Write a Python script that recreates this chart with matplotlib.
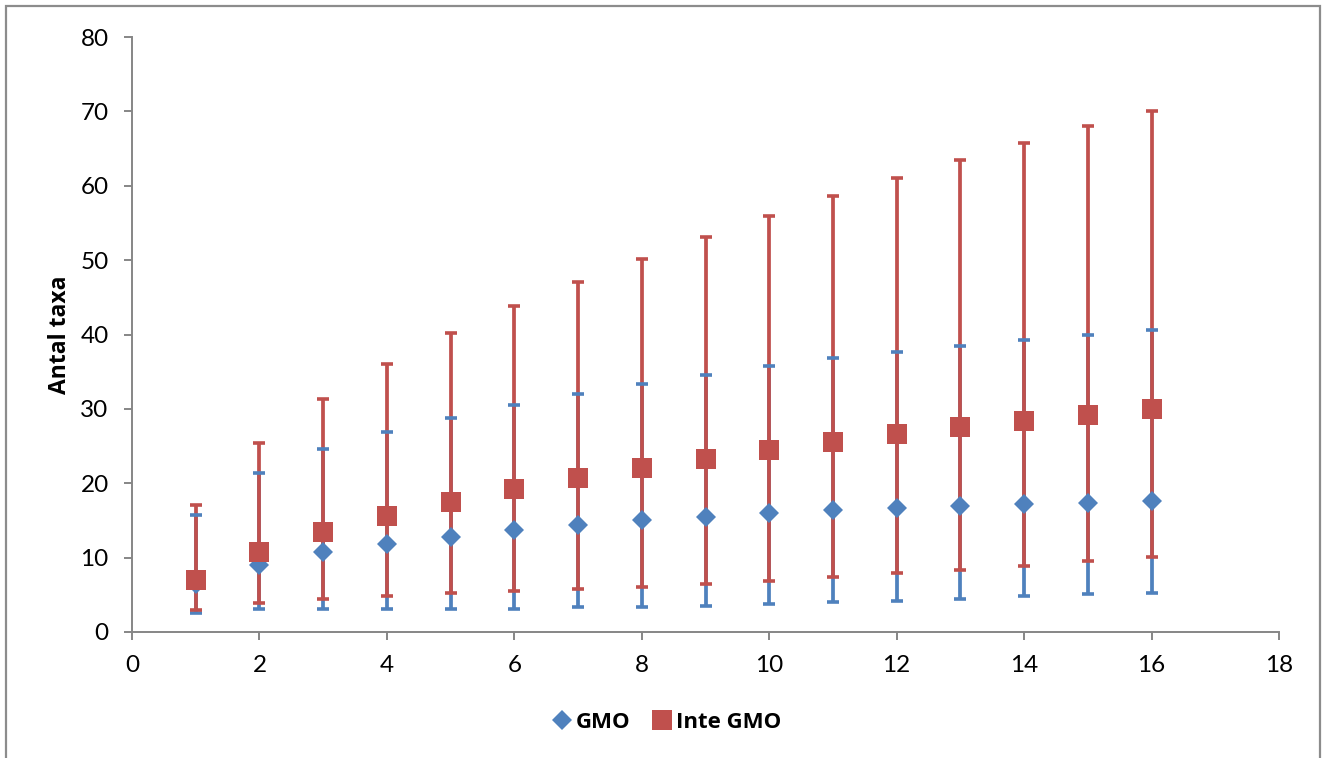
import matplotlib
matplotlib.use("Agg")
import matplotlib.pyplot as plt
from matplotlib.lines import Line2D
from matplotlib.patches import Rectangle
import numpy as np

plt.rcParams["font.family"] = ["Lato", "DejaVu Sans"]
BOLD_FONT = ["Open Sans", "DejaVu Sans"]

# rarefaction: number of samples vs. number of taxa
samples = list(range(1, 17))

gmo_mean = [6.5, 9.0, 10.7, 11.8, 12.8, 13.7, 14.4, 15.0, 15.5, 16.0, 16.4, 16.7, 17.0, 17.2, 17.4, 17.6]
gmo_low = [2.6, 3.1, 3.1, 3.1, 3.1, 3.1, 3.3, 3.4, 3.5, 3.8, 4.0, 4.2, 4.5, 4.8, 5.1, 5.3]
gmo_high = [15.7, 21.4, 24.6, 26.9, 28.8, 30.5, 32.0, 33.4, 34.6, 35.7, 36.8, 37.7, 38.5, 39.3, 40.0, 40.6]

inte_mean = [7.0, 10.7, 13.4, 15.6, 17.5, 19.2, 20.7, 22.0, 23.3, 24.5, 25.6, 26.6, 27.6, 28.4, 29.2, 30.0]
inte_low = [3.0, 3.9, 4.4, 4.8, 5.2, 5.5, 5.8, 6.1, 6.5, 6.9, 7.4, 7.9, 8.4, 8.9, 9.5, 10.1]
inte_high = [17.1, 25.4, 31.3, 36.1, 40.2, 43.8, 47.1, 50.2, 53.1, 55.9, 58.6, 61.0, 63.5, 65.8, 68.0, 70.1]

series_labels = ["GMO", "Inte GMO"]
blue = "#4F81BD"
red = "#C0504D"
axis_grey = "#868686"

W, H = 1322, 758
fig = plt.figure(figsize=(W / 100, H / 100), dpi=100)
ax = fig.add_axes([132 / W, 1 - 632 / H, (1279 - 132) / W, (632 - 37) / H])

# outer chart frame
fig.patches.append(Rectangle((6 / W, -0.05), (1320 - 6) / W, 1 - 6 / H + 0.05,
                             transform=fig.transFigure, fill=False,
                             edgecolor="#8C8C8C", linewidth=1.6))


def draw_errors(mean, low, high, color, z):
    mean = np.array(mean)
    yerr = [mean - np.array(low), np.array(high) - mean]
    _, caps, bars = ax.errorbar(samples, mean, yerr=yerr, fmt="none",
                                ecolor=color, elinewidth=2.7,
                                capsize=4.4, capthick=2.6)
    for b in bars:
        b.set_zorder(z)
    for c in caps:
        c.set_zorder(z + 2)


draw_errors(gmo_mean, gmo_low, gmo_high, blue, 2)
draw_errors(inte_mean, inte_low, inte_high, red, 3)

ax.plot(samples, gmo_mean, linestyle="none", marker="D", markersize=10.5,
        color=blue, markeredgewidth=0, zorder=6)
ax.plot(samples, inte_mean, linestyle="none", marker="s", markersize=14.5,
        color=red, markeredgewidth=0, zorder=7)

ax.set_xlim(0, 18)
ax.set_ylim(0, 80)
ax.set_xticks(range(0, 19, 2))
ax.set_yticks(range(0, 81, 10))
for side in ["top", "right"]:
    ax.spines[side].set_visible(False)
for side in ["left", "bottom"]:
    ax.spines[side].set_color(axis_grey)
    ax.spines[side].set_linewidth(1.4)
ax.tick_params(direction="out", length=5.8, width=1.4, color=axis_grey,
               labelsize=17.5, pad=11)
ax.tick_params(axis="x", pad=11)

ax.set_ylabel("Antal taxa", fontsize=16.5, fontweight="bold", family=BOLD_FONT,
              labelpad=6)

handles = [
    Line2D([], [], linestyle="none", marker="D", markersize=10.5, color=blue, markeredgewidth=0),
    Line2D([], [], linestyle="none", marker="s", markersize=14.5, color=red, markeredgewidth=0),
]
fig.legend(handles, series_labels, loc="center", bbox_to_anchor=(0.505, 1 - 722 / H),
           ncol=2, frameon=False, handlelength=0.7, handletextpad=0.25,
           columnspacing=1.1,
           prop={"weight": "bold", "size": 16, "family": BOLD_FONT})

fig.savefig("out.png", dpi=100)
